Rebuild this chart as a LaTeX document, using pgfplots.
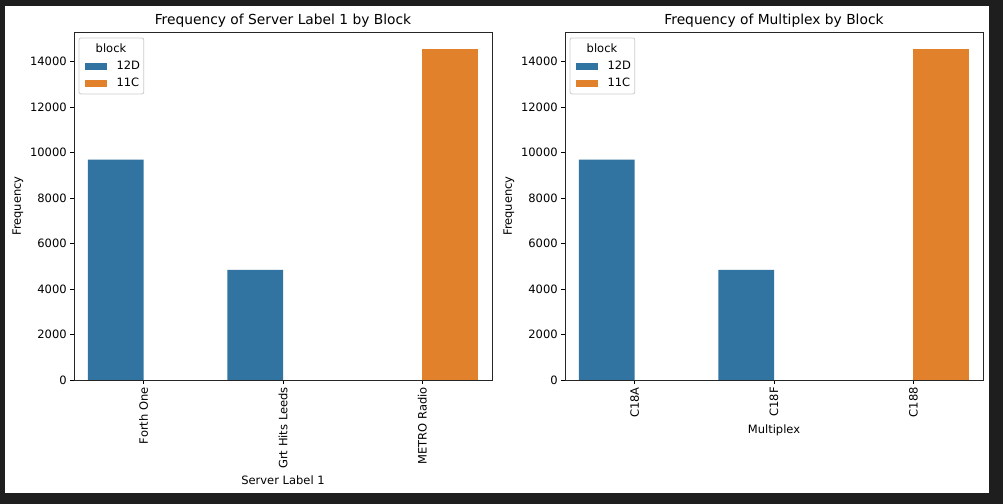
\documentclass[border=0pt]{standalone}
\usepackage{fontspec}
\setmainfont{DejaVu Sans}
\usepackage{pgfplots}
\pgfplotsset{compat=1.18}
\definecolor{sbblue}{RGB}{50,116,161}
\definecolor{sborange}{RGB}{225,129,44}
\definecolor{frame}{RGB}{30,30,30}

\pgfplotsset{
  freq/.style={
    scale only axis, width=418bp, height=348bp, anchor=south west,
    xmin=-0.5, xmax=2.5, ymin=0, ymax=15304,
    xtick={0,1,2}, ytick={0,2000,...,14000},
    scaled y ticks=false,
    /pgf/number format/assume math mode=true,
    yticklabel style={/pgf/number format/1000 sep={}},
    tick pos=left, tick align=outside, major tick length=3.8bp,
    tick style={black, line width=0.8bp},
    axis line style={black!85, line width=0.8bp},
    ticklabel style={font=\fontsize{11.5bp}{13bp}\selectfont},
    xticklabel style={rotate=90, anchor=east},
    label style={font=\fontsize{11.5bp}{13bp}\selectfont},
    title style={font=\fontsize{13.8bp}{15bp}\selectfont, yshift=-5bp},
    ylabel={Frequency},
    ybar, bar width=0.4,
    legend style={at={(rel axis cs:0.026,0.922)}, anchor=north west,
      draw=none, fill=none, inner sep=0pt, row sep=3bp, column sep=7bp,
      font=\fontsize{11.5bp}{13bp}\selectfont,
      nodes={inner sep=2.5bp, text height=8bp, text depth=1bp}},
    legend cell align=left,
    legend image code/.code={\fill[##1, draw=none] (0bp,-3.5bp) rectangle (22bp,3.5bp);},
  }
}

\begin{document}
\begin{tikzpicture}
\fill[frame] (0,0) rectangle (1003bp,504bp);
\fill[white] (5bp,11bp) rectangle (989bp,498bp);
\useasboundingbox (0,0) rectangle (1003bp,504bp);

\begin{axis}[freq, at={(74bp,124bp)},
  title={Frequency of Server Label 1 by Block},
  xlabel={Server Label 1},
  xticklabels={Forth One, Grt Hits Leeds, METRO Radio}]
\addplot[fill=sbblue, draw=none, bar shift=-0.2] coordinates {(0,9690) (1,4845)};
\addplot[fill=sborange, draw=none, bar shift=0.2] coordinates {(2,14575)};
\legend{12D, 11C}
\draw[black!20, rounded corners=2bp, line width=0.8bp] (rel axis cs:0.012,0.983) rectangle (rel axis cs:0.167,0.822);
\node[font=\fontsize{11.5bp}{13bp}\selectfont] at (rel axis cs:0.0885,0.954) {block};
\end{axis}

\begin{axis}[freq, at={(565bp,124bp)},
  title={Frequency of Multiplex by Block},
  xlabel={Multiplex},
  xticklabels={C18A, C18F, C188}]
\addplot[fill=sbblue, draw=none, bar shift=-0.2] coordinates {(0,9690) (1,4845)};
\addplot[fill=sborange, draw=none, bar shift=0.2] coordinates {(2,14575)};
\legend{12D, 11C}
\draw[black!20, rounded corners=2bp, line width=0.8bp] (rel axis cs:0.012,0.983) rectangle (rel axis cs:0.167,0.822);
\node[font=\fontsize{11.5bp}{13bp}\selectfont] at (rel axis cs:0.0885,0.954) {block};
\end{axis}
\end{tikzpicture}
\end{document}
